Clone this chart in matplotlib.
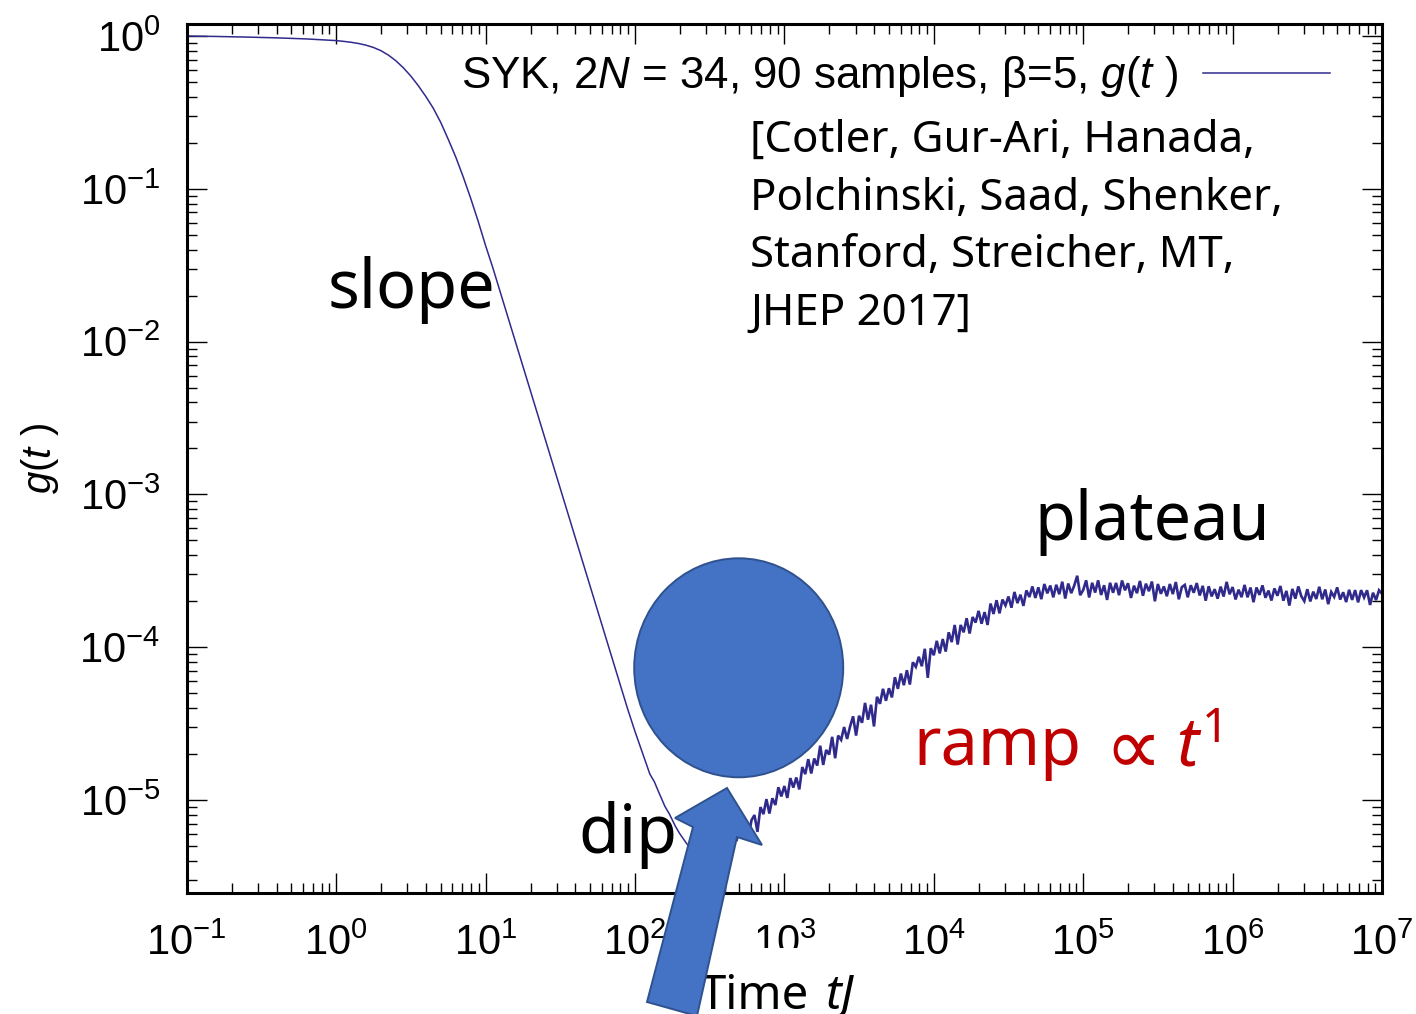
import numpy as np
import matplotlib
matplotlib.use('Agg')
import matplotlib.pyplot as plt
from matplotlib.patches import Ellipse, Polygon, Rectangle
from matplotlib.ticker import FixedLocator, NullFormatter

# ---------------- data ----------------
# smooth early part: log10(tJ), log10(g)
slope_logt = [-1.0, -0.8, -0.6, -0.4, -0.2, 0.0, 0.05, 0.10, 0.15, 0.20, 0.25,
              0.30, 0.35, 0.40, 0.45, 0.50, 0.55, 0.60, 0.65, 0.70, 0.75, 0.80,
              0.85, 0.90, 0.95, 1.00, 1.05, 1.10, 1.15, 1.20, 1.25, 1.30, 1.35,
              1.40, 1.45, 1.50, 1.55, 1.60, 1.65, 1.70, 1.75, 1.80, 1.85, 1.90,
              1.95, 2.00, 2.05, 2.10, 2.13, 2.16, 2.20, 2.23, 2.27, 2.30, 2.35,
              2.40, 2.45, 2.50, 2.55]
slope_logg = [0.000, -0.003, -0.007, -0.012, -0.019, -0.030, -0.035, -0.041,
              -0.049, -0.060, -0.075, -0.096, -0.125, -0.162, -0.208, -0.262,
              -0.325, -0.395, -0.472, -0.565, -0.675, -0.79, -0.92, -1.06, -1.21,
              -1.37, -1.52, -1.68, -1.84, -2.00, -2.16, -2.32, -2.48, -2.64,
              -2.80, -2.96, -3.12, -3.28, -3.44, -3.60, -3.76, -3.92, -4.08,
              -4.24, -4.40, -4.55, -4.69, -4.83, -4.88, -4.95, -5.04, -5.09,
              -5.17, -5.22, -5.29, -5.33, -5.35, -5.34, -5.32]

# noisy ramp + plateau: log10(g) sampled every 0.02 in log10(tJ) from 2.60 to 7.00
ramp_logt = np.round(np.arange(2.60, 7.0001, 0.02), 2)
ramp_logg = [
    -5.300, -5.252, -5.316, -5.236, -5.268,
    -5.172, -5.234, -5.152, -5.246, -5.132,
    -5.098, -5.208, -5.046, -5.092, -4.994,
    -5.088, -4.988, -5.032, -4.916, -4.976,
    -4.908, -4.986, -4.856, -4.918, -4.852,
    -4.930, -4.784, -4.830, -4.732, -4.826,
    -4.728, -4.774, -4.644, -4.770, -4.672,
    -4.702, -4.586, -4.726, -4.578, -4.606,
    -4.522, -4.600, -4.518, -4.452, -4.578,
    -4.448, -4.494, -4.364, -4.474, -4.376,
    -4.518, -4.324, -4.370, -4.272, -4.350,
    -4.268, -4.328, -4.196, -4.272, -4.172,
    -4.248, -4.150, -4.244, -4.098, -4.128,
    -4.062, -4.124, -4.010, -4.200, -4.006,
    -4.052, -3.958, -4.040, -3.946, -4.028,
    -3.902, -3.966, -3.854, -3.982, -3.854,
    -3.902, -3.810, -3.910, -3.802, -3.838,
    -3.762, -3.846, -3.770, -3.854, -3.714,
    -3.782, -3.692, -3.778, -3.688, -3.726,
    -3.668, -3.741, -3.638, -3.711, -3.656,
    -3.729, -3.628, -3.671, -3.602, -3.677,
    -3.608, -3.685, -3.586, -3.647, -3.596,
    -3.673, -3.591, -3.653, -3.571, -3.681,
    -3.583, -3.646, -3.597, -3.532, -3.659,
    -3.626, -3.562, -3.674, -3.578, -3.642,
    -3.562, -3.658, -3.594, -3.690, -3.578,
    -3.643, -3.579, -3.659, -3.563, -3.627,
    -3.581, -3.677, -3.597, -3.646, -3.566,
    -3.663, -3.584, -3.633, -3.570, -3.699,
    -3.586, -3.650, -3.602, -3.666, -3.586,
    -3.652, -3.573, -3.686, -3.607, -3.592,
    -3.673, -3.594, -3.643, -3.580, -3.661,
    -3.598, -3.695, -3.601, -3.667, -3.620,
    -3.682, -3.603, -3.668, -3.572, -3.653,
    -3.606, -3.687, -3.623, -3.672, -3.592,
    -3.673, -3.609, -3.705, -3.609, -3.657,
    -3.595, -3.676, -3.629, -3.694, -3.615,
    -3.663, -3.599, -3.695, -3.631, -3.727,
    -3.618, -3.682, -3.602, -3.666, -3.698,
    -3.620, -3.700, -3.636, -3.684, -3.604,
    -3.686, -3.622, -3.718, -3.638, -3.670,
    -3.608, -3.688, -3.640, -3.704, -3.624,
    -3.690, -3.626, -3.706, -3.626, -3.674,
    -3.627, -3.723, -3.643, -3.691, -3.627,
    -3.650]

x_exponents = [-1, 0, 1, 2, 3, 4, 5, 6, 7]
y_exponents = [-5, -4, -3, -2, -1, 0]
series_label = r'SYK, 2$\it{N}$ = 34, 90 samples, β=5, $\it{g}$($\it{t}$ )'
citation_lines = ['[Cotler, Gur-Ari, Hanada,', 'Polchinski, Saad, Shenker,',
                  'Stanford, Streicher, MT,', 'JHEP 2017]']

# ---------------- style ----------------
W, H, DPI = 1416, 1014, 100
plt.rcParams['font.family'] = ['Liberation Sans', 'DejaVu Sans']
plt.rcParams['mathtext.fontset'] = 'custom'
plt.rcParams['mathtext.rm'] = 'Liberation Sans'
plt.rcParams['mathtext.it'] = 'Liberation Sans:italic'
plt.rcParams['mathtext.bf'] = 'Liberation Sans:bold'
LINE = '#302a8c'
SEGOE = ['Noto Sans', 'DejaVu Sans']


def fx(x):
    return x / W


def fy(y):
    return 1 - y / H


fig = plt.figure(figsize=(W / DPI, H / DPI), dpi=DPI)
ax_l, ax_r, ax_t, ax_b = 186.7, 1382.0, 24.0, 892.7
ax = fig.add_axes([fx(ax_l), fy(ax_b), (ax_r - ax_l) / W, (ax_b - ax_t) / H])

t = 10 ** np.concatenate([np.array(slope_logt), ramp_logt])
g = 10 ** np.concatenate([np.array(slope_logg), np.array(ramp_logg)])
n0 = len(slope_logt)
ax.plot(t[:n0 + 1], g[:n0 + 1], color=LINE, lw=1.1, label=series_label)
ax.plot(t[n0:], g[n0:], color=LINE, lw=1.9, solid_joinstyle='miter')

ax.set_xscale('log')
ax.set_yscale('log')
ax.set_xlim(1e-1, 1e7)
ax.set_ylim(10 ** -5.606, 10 ** 0.0786)

ax.xaxis.set_major_locator(FixedLocator([10.0 ** e for e in x_exponents]))
ax.set_xticklabels([r'$\mathregular{10^{%d}}$' % e for e in x_exponents])
ax.yaxis.set_major_locator(FixedLocator([10.0 ** e for e in y_exponents]))
ax.set_yticklabels([r'$\mathregular{10^{%d}}$' % e for e in y_exponents])
xminor = [m * 10.0 ** e for e in range(-1, 7) for m in range(2, 10)]
yminor = [m * 10.0 ** e for e in range(-6, 1) for m in range(2, 10)]
ax.xaxis.set_minor_locator(FixedLocator(xminor))
ax.yaxis.set_minor_locator(FixedLocator(yminor))
ax.xaxis.set_minor_formatter(NullFormatter())
ax.yaxis.set_minor_formatter(NullFormatter())

ax.tick_params(which='both', direction='in', top=True, right=True, colors='black')
ax.tick_params(which='major', length=14.4, width=1.0, labelsize=30)
ax.tick_params(which='minor', length=7.2, width=1.0)
ax.tick_params(axis='y', which='major', pad=19)
ax.tick_params(axis='x', which='major', pad=22)
for s in ax.spines.values():
    s.set_linewidth(2.2)

leg = ax.legend(loc='upper right', bbox_to_anchor=(fx(1330), fy(54)),
                bbox_transform=fig.transFigure, markerfirst=False, frameon=False,
                fontsize=31.6, handlelength=2.9, handletextpad=0.55,
                borderpad=0, borderaxespad=0)

# y label
fig.text(fx(40), fy(458), r'$g$($t$ )', rotation=90, ha='center', va='center',
         fontsize=29)

# citation
for i, line in enumerate(citation_lines):
    fig.text(fx(750), fy(152 + 57.5 * i), line, ha='left', va='baseline',
             fontsize=31.5, family=SEGOE)

# regime labels
fig.text(fx(328), fy(308), 'slope', fontsize=48, family=SEGOE, va='baseline')
fig.text(fx(1034), fy(540), 'plateau', fontsize=48, family=SEGOE, va='baseline')
fig.text(fx(578), fy(853), 'dip', fontsize=48, family=SEGOE, va='baseline')

RED = '#c00000'
fig.text(fx(913), fy(765), 'ramp', fontsize=48, family=SEGOE, va='baseline', color=RED)
fig.text(fx(1104), fy(774), '∝', fontsize=58, family=['DejaVu Sans'], va='baseline',
         color=RED)
fig.text(fx(1176), fy(765), 't', fontsize=48, family=SEGOE, style='italic',
         va='baseline', color=RED)
fig.text(fx(1202), fy(742), '1', fontsize=34, family=SEGOE, va='baseline', color=RED)

# x label with white box
fig.add_artist(Rectangle((fx(695), fy(1014)), fx(875) - fx(695), fy(948) - fy(1014),
                         transform=fig.transFigure, facecolor='white',
                         edgecolor='none', zorder=2.5))
fig.text(fx(700), fy(1009), 'Time', fontsize=34, family=SEGOE, va='baseline', zorder=3)
fig.text(fx(826), fy(1009), 'tJ', fontsize=34, family=SEGOE, style='italic',
         va='baseline', zorder=3)

# PowerPoint overlay shapes
BLUE, EDGE = '#4472c4', '#2f528f'
fig.add_artist(Ellipse((fx(738.7), fy(667.8)), 209 / W, 219 / H,
                       transform=fig.transFigure, facecolor=BLUE, edgecolor=EDGE,
                       lw=1.4, zorder=4))
arrow_px = [(727, 788), (762, 845), (737, 837), (697, 1016), (647, 1002),
            (693, 827), (675, 818)]
fig.add_artist(Polygon([(fx(x), fy(y)) for x, y in arrow_px], closed=True,
                       transform=fig.transFigure, facecolor=BLUE, edgecolor=EDGE,
                       lw=1.4, zorder=4))

fig.savefig('out.png', dpi=DPI, facecolor='white')
